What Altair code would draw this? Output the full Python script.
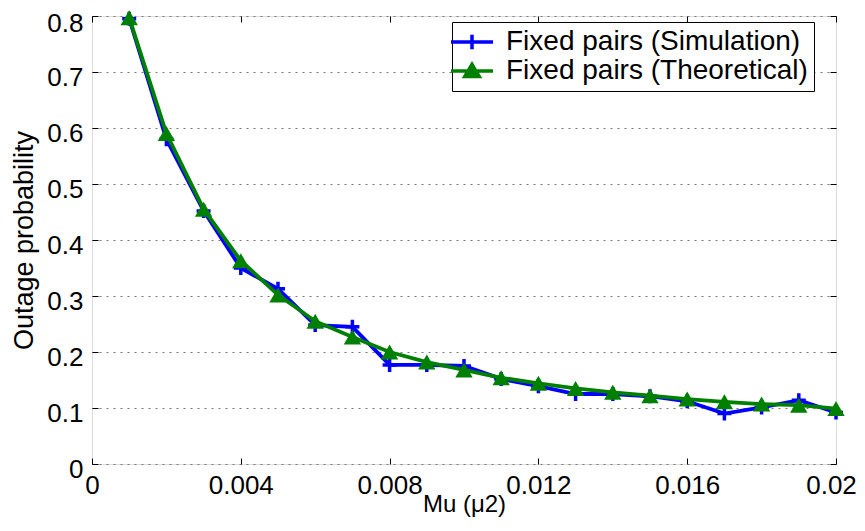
import altair as alt
import pandas as pd

mu = [0.001, 0.002, 0.003, 0.004, 0.005, 0.006, 0.007, 0.008, 0.009, 0.010,
      0.011, 0.012, 0.013, 0.014, 0.015, 0.016, 0.017, 0.018, 0.019, 0.020]
sim = [0.795, 0.580, 0.452, 0.350, 0.313, 0.248, 0.245, 0.177, 0.177, 0.175,
       0.152, 0.139, 0.125, 0.125, 0.121, 0.112, 0.090, 0.101, 0.114, 0.092]
theo = [0.797, 0.590, 0.455, 0.363, 0.302, 0.255, 0.227, 0.200, 0.182, 0.168,
        0.154, 0.144, 0.135, 0.128, 0.122, 0.116, 0.111, 0.107, 0.105, 0.099]
series_names = ["Fixed pairs (Simulation)", "Fixed pairs (Theoretical)"]
series_colors = ["#0000ff", "#008000"]
x_ticks = [0, 0.004, 0.008, 0.012, 0.016, 0.02]
y_ticks = [0, 0.1, 0.2, 0.3, 0.4, 0.5, 0.6, 0.7, 0.8]

df = pd.DataFrame({
    "mu": mu * 2,
    "p": sim + theo,
    "series": [series_names[0]] * len(mu) + [series_names[1]] * len(mu),
})

FONT = "Liberation Sans"
PLUS = "M-1,0H1M0,-1V1"
LEG_SHAPES = ["M-1.75,0H1.75M0,-0.6V0.6", "M-1.75,0H1.75M-0.6,0.45L0,-0.55L0.6,0.45Z"]

xscale = alt.Scale(domain=[0, 0.02], nice=False, zero=False)
yscale = alt.Scale(domain=[0, 0.8], nice=False, zero=False)

legend = alt.Legend(
    title=None, orient="none", legendX=360, legendY=6,
    labelFont=FONT, labelFontSize=28, labelColor="black",
    strokeColor="black", fillColor="white", padding=6,
    symbolSize=576, labelOffset=20, rowPadding=-1,
    symbolStrokeWidth=3.5, symbolOpacity=1, labelLimit=400,
)

x_bottom = alt.X("mu:Q", scale=xscale, axis=alt.Axis(
    orient="bottom", values=x_ticks, offset=-6, tickSize=6, domain=False, grid=False,
    labelExpr="datum.value == 0 ? '0' : format(datum.value, '.3~f')",
    labelFlush=False, labelOverlap=False, labelBound=False, labelPadding=8,
    labelOffset={"condition": {"test": "datum.value > 0.019", "value": -5}, "value": 0},
    labelFont=FONT, labelFontSize=26, labelColor="black", tickColor="black",
    title="Mu (μ2)", titleFont=FONT, titleFontSize=24, titleFontWeight="normal",
    titleColor="black", titlePadding=-6))
y_left = alt.Y("p:Q", scale=yscale, axis=alt.Axis(
    orient="left", values=y_ticks, offset=-6, tickSize=6, domain=False,
    grid=True, gridDash=[2, 5], gridColor="#777777", gridWidth=1, gridOpacity=1,
    labelExpr="format(datum.value, '.1~f')", labelOverlap=False, labelFlush=False,
    labelBound=False, labelPadding=9,
    labelOffset={"condition": {"test": "datum.value > 0.75", "value": 7}, "value": 5},
    labelFont=FONT, labelFontSize=26, labelColor="black", tickColor="black",
    title="Outage probability", titleFont=FONT, titleFontSize=27,
    titleFontWeight="normal", titleColor="black", titlePadding=8))

x_top = alt.X("mu:Q", scale=xscale, axis=alt.Axis(
    orient="top", values=x_ticks, offset=-6, tickSize=6, domain=False, grid=False,
    labels=False, title=None, tickColor="black"))
y_right = alt.Y("p:Q", scale=yscale, axis=alt.Axis(
    orient="right", values=y_ticks, offset=-6, tickSize=6, domain=False, grid=False,
    labels=False, title=None, tickColor="black"))

x_none = alt.X("mu:Q", scale=xscale, axis=None)
y_none = alt.Y("p:Q", scale=yscale, axis=None)

base = alt.Chart(df)
sim_df = base.transform_filter(alt.datum.series == series_names[0])
theo_df = base.transform_filter(alt.datum.series == series_names[1])

sim_line = sim_df.mark_line(strokeWidth=3.8, color=series_colors[0]).encode(x=x_bottom, y=y_left)
sim_pts = sim_df.mark_point(shape=PLUS, size=196, strokeWidth=3.5, filled=False,
                            color=series_colors[0], opacity=1).encode(x=x_none, y=y_none)
theo_line = theo_df.mark_line(strokeWidth=3.8, color=series_colors[1]).encode(x=x_none, y=y_none)
theo_pts = theo_df.mark_point(shape="triangle-up", size=300, filled=True,
                              color=series_colors[1], opacity=1).encode(x=x_top, y=y_right)

legend_layer = base.mark_point(
    filled=True, strokeWidth=3.5, size=0
).encode(
    x=x_none, y=y_none,
    fill=alt.Fill("series:N", scale=alt.Scale(domain=series_names, range=series_colors), legend=legend),
    stroke=alt.Stroke("series:N", scale=alt.Scale(domain=series_names, range=series_colors), legend=legend),
    shape=alt.Shape("series:N", scale=alt.Scale(domain=series_names, range=LEG_SHAPES), legend=legend),
)

chart = alt.layer(sim_line, sim_pts, theo_line, theo_pts, legend_layer).resolve_axis(
    x="independent", y="independent"
).properties(
    width=744, height=448,
    autosize=alt.AutoSizeParams(type="none"),
    padding={"left": 84, "top": 8, "right": 21, "bottom": 54},
).configure_axis(grid=False).configure_view(stroke="black", strokeWidth=1.3).configure(background="white")

chart.save("out.html", embed_options={"renderer": "svg", "actions": False})
